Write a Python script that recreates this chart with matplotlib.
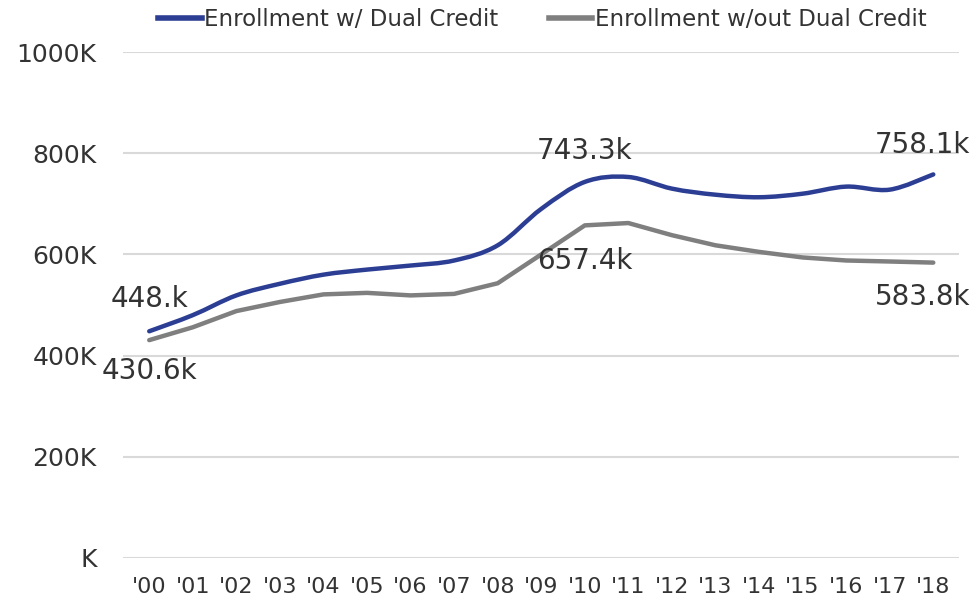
import matplotlib
matplotlib.use("Agg")
import matplotlib.pyplot as plt
from matplotlib.path import Path
from matplotlib.patches import PathPatch
from matplotlib.lines import Line2D
import numpy as np

years = ["'00", "'01", "'02", "'03", "'04", "'05", "'06", "'07", "'08", "'09",
         "'10", "'11", "'12", "'13", "'14", "'15", "'16", "'17", "'18"]
with_dual = [448.1, 480, 519, 542, 560, 570, 578, 588, 618, 690,
             743.3, 753, 730, 718, 713, 720, 734, 728, 758.1]
without_dual = [430.6, 456, 488, 506, 521, 524, 519, 522, 543, 600,
                657.4, 662, 638, 618, 605, 594, 588, 586, 583.8]
series_names = ["Enrollment w/ Dual Credit", "Enrollment w/out Dual Credit"]
y_ticks = [0, 200, 400, 600, 800, 1000]
y_tick_labels = ["K", "200K", "400K", "600K", "800K", "1000K"]

BLUE = "#2c3e93"
GRAY = "#7f7f7f"
TXT = "#333333"
FONT = "DejaVu Sans"
plt.rcParams["font.family"] = [FONT]

fig = plt.figure(figsize=(9.77, 6.05), dpi=100)
ax = fig.add_axes([0.126, 0.0777, 0.856, 0.8363])

x = np.arange(len(years), dtype=float)


def smooth_path(xs, ys, t=1.0):
    pts = np.column_stack([xs, ys])
    n = len(pts)
    verts = [pts[0]]
    codes = [Path.MOVETO]
    for i in range(n - 1):
        p0 = pts[i - 1] if i > 0 else pts[i]
        p1 = pts[i]
        p2 = pts[i + 1]
        p3 = pts[i + 2] if i + 2 < n else pts[i + 1]
        c1 = p1 + (p2 - p0) / 6.0 * t
        c2 = p2 - (p3 - p1) / 6.0 * t
        verts += [c1, c2, p2]
        codes += [Path.CURVE4] * 3
    return Path(verts, codes)


ax.add_patch(PathPatch(smooth_path(x, np.array(with_dual)), fill=False,
                       edgecolor=BLUE, lw=3.2, capstyle="round", zorder=3))
ax.plot(x, without_dual, color=GRAY, lw=3.2, solid_capstyle="round",
        solid_joinstyle="round", zorder=3)

ax.set_xlim(-0.6, 18.6)
ax.set_ylim(0, 1000)
ax.set_yticks(y_ticks)
ax.set_yticklabels(y_tick_labels)
ax.set_xticks(x)
ax.set_xticklabels(years)
ax.tick_params(axis="y", length=0, pad=19, labelsize=18, labelcolor=TXT)
ax.tick_params(axis="x", length=0, pad=14, labelsize=16, labelcolor=TXT)
for s in ax.spines.values():
    s.set_visible(False)
ax.grid(axis="y", color="#d9d9d9", lw=1.5)
ax.set_axisbelow(True)

# data labels
def lab(i, val, text, dy, dx=0):
    ax.annotate(text, (x[i], val), xytext=(dx, dy), textcoords="offset points",
                ha="center", va="center", fontsize=20, color=TXT, zorder=5,
                annotation_clip=False)

lab(0, with_dual[0], "448.k", 23)
lab(0, without_dual[0], "430.6k", -22)
lab(10, with_dual[10], "743.3k", 22)
lab(10, without_dual[10], "657.4k", -26)
lab(18, with_dual[18], "758.1k", 21, dx=-8)
lab(18, without_dual[18], "583.8k", -25, dx=-8)

handles = [Line2D([], [], color=BLUE, lw=4), Line2D([], [], color=GRAY, lw=4)]
fig.legend(handles, series_names, loc="center", bbox_to_anchor=(0.555, 0.967),
           ncol=2, frameon=False, fontsize=16.5, handlelength=1.9,
           handletextpad=0.1, columnspacing=2.2, labelcolor=TXT)

fig.savefig("out.png", dpi=100)
